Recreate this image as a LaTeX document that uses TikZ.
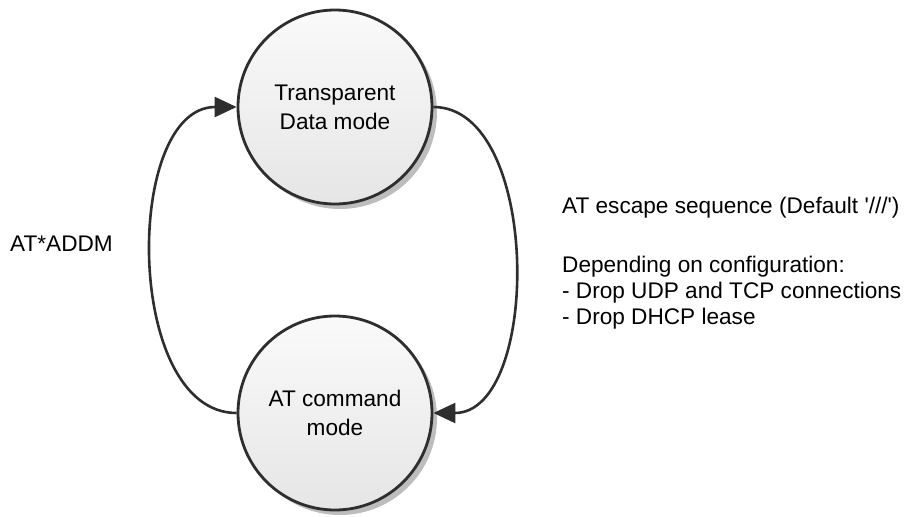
\documentclass[tikz,border=0pt]{standalone}
\usepackage{fontspec}
\setmainfont{Liberation Sans}
\usetikzlibrary{arrows.meta,shadows}
\definecolor{inkline}{HTML}{2E2E2E}
\definecolor{shadowgrey}{HTML}{BDBDBD}
\begin{document}
\begin{tikzpicture}[x=1pt,y=-1pt,
  every node/.style={font=\fontsize{22.6}{29}\selectfont, text=black},
  mode/.style={circle, draw=inkline, line width=2.8pt, minimum size=194pt,
    inner sep=0pt, align=center, top color=gray!4, bottom color=gray!20,
    drop shadow={shadow xshift=5pt, shadow yshift=-5pt, fill=shadowgrey, opacity=1}},
  link/.style={draw=inkline, line width=2.6pt,
    -{Triangle[length=22pt,width=20pt]}},
  note/.style={anchor=base west, inner sep=0pt}]
  \useasboundingbox (0,0) rectangle (914,517);

  % the two operating modes
  \node[mode] (data) at (335,107) {Transparent\\Data mode};
  \node[mode] (cmd)  at (335,413) {AT command\\mode};

  % transitions between them
  \draw[link] (cmd.west) .. controls +(-113,0) and +(-113,0) .. (data.west);
  \draw[link] (data.east) .. controls +(108,0) and +(108,0) .. (cmd.east);

  % labels of the transitions
  \node[note] (toData) at (10,251) {AT*ADDM};
  \node[note] (toCmd) at (562,213) {AT escape sequence (Default \textquotesingle///\textquotesingle)};
  \node[note] (dep1) at (562,272) {Depending on configuration:};
  \node[note] (dep2) at (562,298) {- Drop UDP and TCP connections};
  \node[note] (dep3) at (562,324) {- Drop DHCP lease};
\end{tikzpicture}
\end{document}
